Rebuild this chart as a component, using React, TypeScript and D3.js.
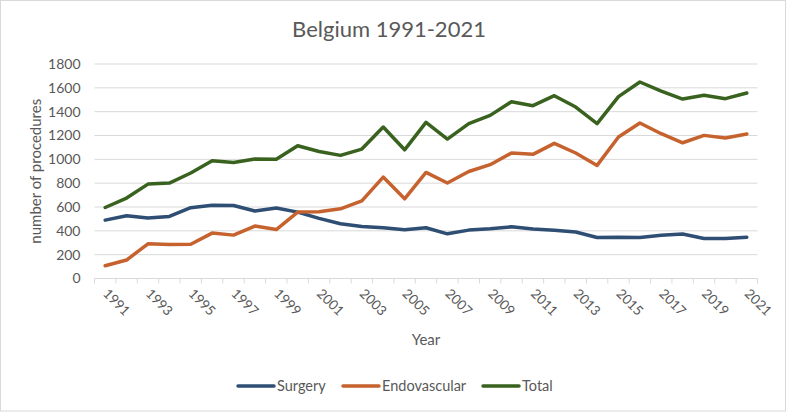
import React, { useEffect, useRef } from 'react';
import * as d3 from 'd3';

const years = d3.range(1991, 2022).map(String);

const surgery = [
  490, 527, 507, 521, 594, 614, 613, 566, 591, 557,
  505, 459, 437, 426, 409, 426, 375, 406, 417, 434,
  415, 405, 390, 344, 347, 344, 362, 373, 336, 335, 347,
];

const endovascular = [
  107, 155, 291, 286, 288, 381, 364, 440, 411, 557,
  560, 585, 652, 851, 669, 890, 801, 898, 955, 1053,
  1042, 1134, 1053, 949, 1187, 1305, 1215, 1139, 1201, 1179, 1212,
];

const total = [
  596, 675, 792, 801, 885, 988, 974, 1002, 1000, 1114,
  1066, 1033, 1086, 1271, 1080, 1310, 1170, 1299, 1369, 1484,
  1450, 1534, 1439, 1299, 1526, 1649, 1573, 1506, 1537, 1509, 1557,
];

const yTicks = [0, 200, 400, 600, 800, 1000, 1200, 1400, 1600, 1800];

const seriesNames = ['Surgery', 'Endovascular', 'Total'];
const seriesColors = ['#2E4E74', '#C6622E', '#39621F'];

const W = 787;
const H = 412;
const FONT = 'Lato, "Open Sans", "Noto Sans", sans-serif';
const TEXT = '#595959';

export default function App() {
  const svgRef = useRef<SVGSVGElement>(null);

  useEffect(() => {
    if (!svgRef.current) return;
    const svg = d3.select(svgRef.current);
    svg.selectAll('*').remove();

    const margin = { top: 64, right: W - 757.5, bottom: H - 278.5, left: 94.5 };
    const innerWidth = W - margin.left - margin.right;
    const innerHeight = H - margin.top - margin.bottom;

    // chart area border
    svg.append('rect')
      .attr('x', 0.5).attr('y', 0.5)
      .attr('width', W - 2).attr('height', H - 1.5)
      .attr('fill', '#fff')
      .attr('stroke', '#d9d9d9');

    svg.append('text')
      .attr('x', 389).attr('y', 37)
      .attr('text-anchor', 'middle')
      .attr('font-family', FONT)
      .attr('font-size', 22)
      .attr('fill', TEXT)
      .text('Belgium 1991-2021');

    const g = svg.append('g')
      .attr('transform', `translate(${margin.left}, ${margin.top})`);

    const x = d3.scaleBand().domain(years).range([0, innerWidth]);
    const y = d3.scaleLinear().domain([0, 1800]).range([innerHeight, 0]);

    // gridlines
    g.append('g')
      .selectAll('line')
      .data(yTicks.slice(1))
      .enter().append('line')
      .attr('x1', 0).attr('x2', innerWidth)
      .attr('y1', d => y(d)).attr('y2', d => y(d))
      .attr('stroke', '#d9d9d9')
      .attr('stroke-width', 1);

    // y tick labels
    g.append('g')
      .selectAll('text')
      .data(yTicks)
      .enter().append('text')
      .attr('x', -14)
      .attr('y', d => y(d))
      .attr('dy', '0.35em')
      .attr('text-anchor', 'end')
      .attr('font-family', FONT)
      .attr('font-size', 14)
      .attr('fill', TEXT)
      .text(d => d);

    // x axis line and ticks between categories
    g.append('line')
      .attr('x1', 0).attr('x2', innerWidth)
      .attr('y1', innerHeight).attr('y2', innerHeight)
      .attr('stroke', '#d9d9d9');

    g.append('g')
      .selectAll('line')
      .data(years.concat(['end']))
      .enter().append('line')
      .attr('x1', (d, i) => i * x.bandwidth())
      .attr('x2', (d, i) => i * x.bandwidth())
      .attr('y1', innerHeight).attr('y2', innerHeight + 5)
      .attr('stroke', '#d9d9d9');

    // x labels, every other year
    g.append('g')
      .selectAll('text')
      .data(years.filter((d, i) => i % 2 === 0))
      .enter().append('text')
      .attr('transform', d => `translate(${x(d)! + x.bandwidth() / 2 - 3}, ${innerHeight + 16}) rotate(45)`)
      .attr('font-family', FONT)
      .attr('font-size', 13.5)
      .attr('fill', TEXT)
      .text(d => d);

    svg.append('text')
      .attr('x', margin.left + innerWidth / 2)
      .attr('y', 345)
      .attr('text-anchor', 'middle')
      .attr('font-family', FONT)
      .attr('font-size', 15)
      .attr('fill', TEXT)
      .text('Year');

    svg.append('text')
      .attr('transform', `translate(41, ${margin.top + innerHeight / 2}) rotate(-90)`)
      .attr('text-anchor', 'middle')
      .attr('font-family', FONT)
      .attr('font-size', 15)
      .attr('fill', TEXT)
      .text('number of procedures');

    // lines
    const line = d3.line<number>()
      .x((d, i) => x(years[i])! + x.bandwidth() / 2)
      .y(d => y(d));

    [surgery, endovascular, total].forEach((values, k) => {
      g.append('path')
        .datum(values)
        .attr('d', line)
        .attr('fill', 'none')
        .attr('stroke', seriesColors[k])
        .attr('stroke-width', 3.5)
        .attr('stroke-linejoin', 'round')
        .attr('stroke-linecap', 'round');
    });

    // legend
    const legendX = [238, 343, 483];
    const legend = svg.append('g');
    seriesNames.forEach((name, k) => {
      legend.append('line')
        .attr('x1', legendX[k]).attr('x2', legendX[k] + 36)
        .attr('y1', 386).attr('y2', 386)
        .attr('stroke', seriesColors[k])
        .attr('stroke-width', 3.5)
        .attr('stroke-linecap', 'round');
      legend.append('text')
        .attr('x', legendX[k] + 39)
        .attr('y', 386)
        .attr('dy', '0.35em')
        .attr('font-family', FONT)
        .attr('font-size', 14.5)
        .attr('fill', TEXT)
        .text(name);
    });
  }, []);

  return (
    <svg
      ref={svgRef}
      width={W}
      height={H}
      style={{ position: 'absolute', left: 0, top: 0 }}
    />
  );
}
